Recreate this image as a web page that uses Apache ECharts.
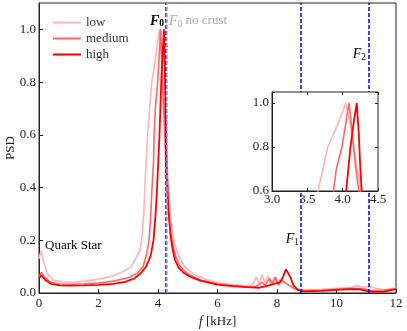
<!DOCTYPE html>
<html>
<head>
<meta charset="utf-8">
<script src="https://cdn.jsdelivr.net/npm/echarts@6/dist/echarts.min.js"></script>
<style>
  html, body { margin: 0; padding: 0; background: #fff; }
  #chart { width: 407px; height: 331px; }
</style>
</head>
<body>
<div id="chart"></div>
<script>
// PSD curves, [f (kHz), normalised PSD]
var lowData = [[0,0.13],[0.07,0.16],[0.15,0.12],[0.3,0.07],[0.5,0.048],[0.8,0.042],[1.2,0.042],[1.6,0.045],[2.0,0.052],[2.5,0.065],[2.9,0.085],[3.1,0.1],[3.3,0.14],[3.39,0.16],[3.45,0.2],[3.52,0.3],[3.58,0.45],[3.65,0.6],[3.79,0.8],[3.9,0.88],[4.0,0.96],[4.04,1.0],[4.1,0.92],[4.18,0.75],[4.25,0.62],[4.3,0.5],[4.37,0.36],[4.45,0.26],[4.55,0.19],[4.7,0.14],[4.9,0.1],[5.2,0.072],[5.6,0.052],[6.0,0.04],[6.5,0.032],[7.0,0.027],[7.2,0.035],[7.3,0.06],[7.4,0.035],[7.5,0.07],[7.6,0.04],[7.7,0.065],[7.8,0.03],[7.9,0.06],[8.0,0.035],[8.1,0.05],[8.3,0.035],[8.5,0.025],[8.8,0.012],[9.5,0.014],[10,0.018],[10.5,0.022],[10.7,0.028],[10.9,0.022],[11.1,0.026],[11.3,0.018],[11.6,0.012],[12,0.02]];
var mediumData = [[0,0.06],[0.08,0.078],[0.2,0.058],[0.4,0.04],[0.7,0.034],[1.0,0.033],[1.5,0.035],[2.0,0.038],[2.5,0.045],[3.0,0.058],[3.3,0.075],[3.5,0.1],[3.62,0.15],[3.7,0.2],[3.76,0.3],[3.8,0.4],[3.85,0.5],[3.87,0.6],[3.91,0.7],[3.99,0.8],[4.05,0.92],[4.09,1.0],[4.13,0.88],[4.18,0.72],[4.22,0.62],[4.26,0.5],[4.32,0.35],[4.4,0.25],[4.5,0.18],[4.6,0.135],[4.75,0.1],[5.0,0.072],[5.4,0.05],[6.0,0.034],[6.5,0.028],[7.0,0.023],[7.3,0.025],[7.5,0.04],[7.6,0.03],[7.75,0.055],[7.85,0.035],[7.95,0.06],[8.05,0.03],[8.15,0.05],[8.25,0.04],[8.4,0.03],[8.6,0.015],[8.9,0.008],[9.5,0.01],[10,0.014],[10.5,0.018],[10.9,0.016],[11.1,0.01],[11.5,0.008],[12,0.016]];
var highData = [[0,0.055],[0.08,0.068],[0.2,0.05],[0.4,0.035],[0.7,0.029],[1.0,0.028],[1.5,0.029],[2.0,0.031],[2.5,0.035],[2.9,0.042],[3.2,0.055],[3.43,0.076],[3.6,0.1],[3.75,0.14],[3.85,0.2],[3.92,0.3],[3.97,0.4],[4.01,0.5],[4.05,0.6],[4.11,0.8],[4.16,0.92],[4.2,1.0],[4.23,0.85],[4.25,0.7],[4.27,0.6],[4.3,0.45],[4.35,0.32],[4.42,0.22],[4.5,0.16],[4.57,0.125],[4.7,0.095],[4.85,0.078],[5.08,0.062],[5.4,0.048],[6.0,0.032],[6.5,0.026],[7.0,0.022],[7.4,0.02],[7.7,0.028],[7.9,0.035],[8.1,0.04],[8.2,0.06],[8.3,0.09],[8.35,0.095],[8.45,0.06],[8.55,0.03],[8.7,0.012],[8.9,0.006],[9.5,0.008],[10,0.012],[10.5,0.015],[10.8,0.014],[11.0,0.008],[11.2,0.004],[11.6,0.005],[12,0.015]];

var seriesNames = ['low', 'medium', 'high'];
var seriesColors = ['#ffb3b3', '#ff6666', '#ff0000'];
var seriesWidths = [1.6, 1.6, 1.8];

// frequency lines (kHz)
var modeLines = [4.25, 8.8, 11.07];   // F0, F1, F2
var noCrustLine = 4.3;                 // F0 without crust

var FONT = 'Liberation Serif';
var FS = 13;
var chart = echarts.init(document.getElementById('chart'));

var allData = [lowData, mediumData, highData];
var series = [];
allData.forEach(function (d, i) {
    series.push({
        name: seriesNames[i], type: 'line', data: d,
        xAxisIndex: 0, yAxisIndex: 0, showSymbol: false, z: 2,
        lineStyle: { color: seriesColors[i], width: seriesWidths[i] },
        itemStyle: { color: seriesColors[i] }
    });
});
allData.forEach(function (d, i) {
    series.push({
        name: seriesNames[i] + '_inset', type: 'line', data: d,
        xAxisIndex: 1, yAxisIndex: 1, showSymbol: false, z: 12, clip: true,
        lineStyle: { color: seriesColors[i], width: seriesWidths[i] }
    });
});

function vLines(vals, color, xi, yi, z) {
    return {
        type: 'line', data: [], xAxisIndex: xi, yAxisIndex: yi, z: z,
        markLine: {
            silent: true, symbol: 'none', animation: false,
            label: { show: false },
            lineStyle: { color: color, type: [4, 2], width: 1.5 },
            data: vals.map(function (v) { return { xAxis: v }; })
        }
    };
}
series.push(vLines(modeLines, '#0000ff', 0, 0, 3));
series.push(vLines([noCrustLine], '#a0a0ff', 0, 0, 3));
series.push(vLines([modeLines[0]], '#0000ff', 1, 1, 13));
series.push(vLines([noCrustLine], '#a0a0ff', 1, 1, 13));

var labelStyle = { fontFamily: FONT, fontSize: FS, color: '#222' };

function sub(main, idx, color, bold) {
    return { text: '{f|' + main + '}{s|' + idx + '}', rich: {
        f: { fontFamily: FONT, fontStyle: 'italic', fontWeight: bold ? 'bold' : 'normal', fontSize: 14, fill: color },
        s: { fontFamily: FONT, fontWeight: bold ? 'bold' : 'normal', fontSize: 9.5, fill: color, padding: [6, 0, 0, 0] } } };
}

chart.setOption({
    animation: false,
    backgroundColor: '#fff',
    textStyle: { fontFamily: FONT },
    legend: {
        data: seriesNames, orient: 'vertical', left: 48, top: 11,
        itemWidth: 28, itemHeight: 2, itemGap: 3, icon: 'rect',
        textStyle: { fontFamily: FONT, fontSize: FS, color: '#333' }
    },
    grid: [
        { left: 39, right: 11, top: 3, bottom: 38, show: true, borderColor: '#222', borderWidth: 1, z: 0, outerBoundsMode: 'none', containLabel: false },
        { left: 272, width: 106, top: 92, height: 99, show: true, backgroundColor: '#fff', borderColor: '#222', borderWidth: 1, z: 10, outerBoundsMode: 'none', containLabel: false }
    ],
    xAxis: [
        {
            type: 'value', gridIndex: 0, min: 0, max: 12, interval: 2,
            name: '{i|f} [kHz]', nameLocation: 'middle', nameGap: 22, nameMoveOverlap: false,
            nameTextStyle: { fontFamily: FONT, fontSize: FS, color: '#222', rich: { i: { fontFamily: FONT, fontStyle: 'italic', fontSize: 14 } } },
            axisLine: { lineStyle: { color: '#222' } },
            axisTick: { inside: true, length: 4, lineStyle: { color: '#222' } },
            axisLabel: Object.assign({ margin: 4 }, labelStyle),
            splitLine: { show: false }
        },
        {
            type: 'value', gridIndex: 1, min: 3, max: 4.5, interval: 0.5, z: 11,
            axisLine: { lineStyle: { color: '#222' } },
            axisTick: { inside: true, length: 3, lineStyle: { color: '#222' } },
            axisLabel: Object.assign({ margin: 2, formatter: function (v) { return v.toFixed(1); } }, labelStyle),
            splitLine: { show: false }
        },
        {
            type: 'value', gridIndex: 1, min: 3, max: 4.5, interval: 0.5, position: 'top', z: 11,
            axisLine: { show: false },
            axisTick: { inside: true, length: 3, lineStyle: { color: '#222' } },
            axisLabel: { show: false }, splitLine: { show: false }
        }
    ],
    yAxis: [
        {
            type: 'value', gridIndex: 0, min: 0, max: 1.1, interval: 0.2,
            name: 'PSD', nameLocation: 'middle', nameGap: 22, nameRotate: 90, nameMoveOverlap: false,
            nameTextStyle: { fontFamily: FONT, fontSize: FS, color: '#222' },
            axisLine: { lineStyle: { color: '#222' } },
            axisTick: { inside: true, length: 4, lineStyle: { color: '#222' } },
            axisLabel: Object.assign({ margin: 3, showMaxLabel: false, formatter: function (v) { return v > 1.05 ? '' : v.toFixed(1); } }, labelStyle),
            splitLine: { show: false }
        },
        {
            type: 'value', gridIndex: 1, min: 0.6, max: 1.05, interval: 0.2, z: 11,
            axisLine: { lineStyle: { color: '#222' } },
            axisTick: { inside: true, length: 3, lineStyle: { color: '#222' } },
            axisLabel: Object.assign({ margin: 3, formatter: function (v) { return v > 1.02 ? '' : v.toFixed(1); } }, labelStyle),
            splitLine: { show: false }
        },
        {
            type: 'value', gridIndex: 1, min: 0.6, max: 1.05, interval: 0.2, position: 'right', z: 11,
            axisLine: { show: false },
            axisTick: { inside: true, length: 3, lineStyle: { color: '#222' } },
            axisLabel: { show: false }, splitLine: { show: false }
        }
    ],
    graphic: [
        { type: 'text', x: 164, y: 21, style: Object.assign({ align: 'right', verticalAlign: 'middle' }, sub('F', '0', '#000', true)) },
        { type: 'text', x: 169, y: 21, style: { text: '{f|F}{s|0}{t| no crust}', align: 'left', verticalAlign: 'middle', rich: {
            f: { fontFamily: FONT, fontStyle: 'italic', fontSize: 14, fill: '#aaa' },
            s: { fontFamily: FONT, fontSize: 9.5, fill: '#aaa', padding: [6, 0, 0, 0] },
            t: { fontFamily: FONT, fontSize: FS, fill: '#aaa' } } } },
        { type: 'text', x: 366, y: 54, z: 20, style: Object.assign({ align: 'right', verticalAlign: 'middle' }, sub('F', '2', '#000', false)) },
        { type: 'text', x: 299, y: 239, style: Object.assign({ align: 'right', verticalAlign: 'middle' }, sub('F', '1', '#000', false)) },
        { type: 'text', x: 45, y: 246, style: { text: 'Quark Star', verticalAlign: 'middle', font: FS + 'px "Liberation Serif"', fill: '#000' } }
    ],
    series: series
});
</script>
</body>
</html>
